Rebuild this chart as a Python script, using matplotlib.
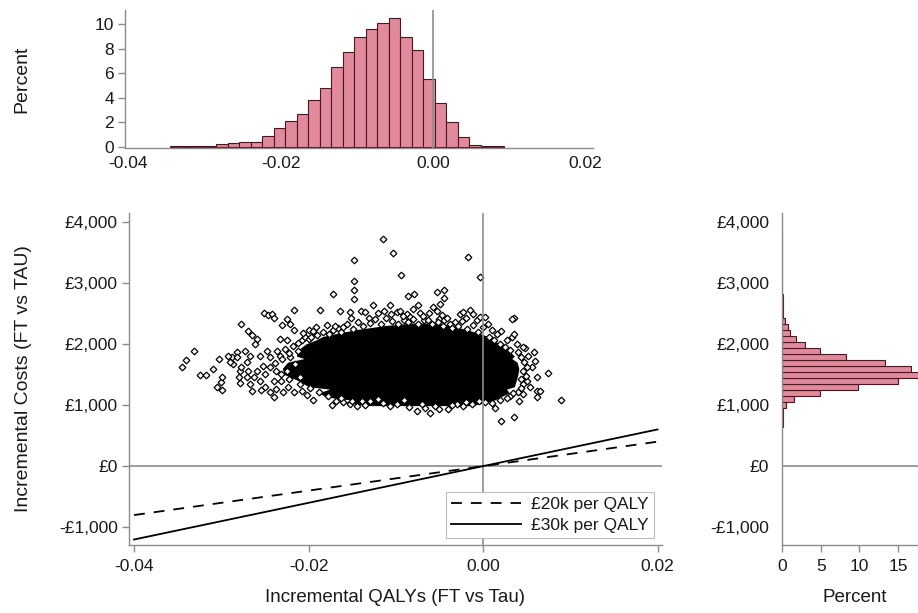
import numpy as np
import matplotlib

matplotlib.use("Agg")
import matplotlib.pyplot as plt
from matplotlib.ticker import FuncFormatter

plt.rcParams["font.family"] = ["Liberation Sans", "DejaVu Sans"]
plt.rcParams["axes.unicode_minus"] = False

GREY = "#8c8c8c"
BAR = "#e08a9b"
BAR_EDGE = "#4d1522"
TXT = "#1a1a1a"

# ---- data ----
# top histogram: incremental QALYs, percent per bin
qaly_bin_start = -0.0345
qaly_bin_width = 0.00151
qaly_pct = [0.05, 0.05, 0.05, 0.05, 0.2, 0.3, 0.4, 0.4, 0.9, 1.5, 2.1, 2.7, 3.8, 4.8, 6.5,
            7.7, 8.9, 9.6, 10.1, 10.5, 8.9, 7.9, 5.5, 3.6, 2.0, 0.8, 0.15, 0.05, 0.05]

# right histogram: incremental costs, percent per bin
cost_bin_start = 648
cost_bin_width = 98.7
cost_pct = [0.03, 0.05, 0.1, 0.45, 1.47, 4.85, 9.75, 15.0, 17.8, 16.7, 13.3, 8.2, 4.9, 3.0,
            1.8, 1.0, 0.7, 0.3, 0.1, 0.05, 0.04, 0.03, 0.02, 0.02, 0.01, 0.01, 0.01, 0.01,
            0.01, 0.01, 0.01, 0.01]

# saturated centre of the scatter cloud: extent of the solid black band per cost level
core_cost = [990, 1040, 1080, 1130, 1200, 1260, 1300, 1400, 1500, 1600, 1700, 1760, 1800,
             1900, 2000, 2060, 2120, 2180, 2240, 2300, 2340]
core_left = [-0.0130, -0.0160, -0.0150, -0.0180, -0.0188, -0.0176, -0.0200, -0.0212, -0.0228,
             -0.0230, -0.0224, -0.0205, -0.0214, -0.0212, -0.0203, -0.0192, -0.0184, -0.0165,
             -0.0142, -0.0112, -0.0082]
core_right = [-0.0012, 0.0002, 0.0013, 0.0020, 0.0030, 0.0027, 0.0036, 0.0038, 0.0040,
              0.0041, 0.0039, 0.0033, 0.0036, 0.0029, 0.0020, 0.0011, 0.0006, -0.0006,
              -0.0021, -0.0036, -0.0056]

# individual simulations visible outside the solid centre
scatter_qaly = [
    -0.0115, -0.0103, -0.0148, -0.0017, -0.0003, -0.0094, -0.0148, -0.0148, -0.0148, -0.0172,
    -0.0086, -0.0079, -0.0053, -0.0045, -0.0045, -0.0049, -0.0187, -0.0126, -0.0164, 0.0036,
    0.0033, 0.0048, 0.0074, 0.0089, 0.0021, 0.0036, 0.0062,
    -0.0345, -0.0340, -0.0331, -0.0324, -0.0318, -0.0309, -0.0303, -0.0305, -0.0299, -0.0300,
    -0.0299, -0.0288, -0.0286, -0.0282, -0.0279, -0.0277, -0.0269, -0.0265, -0.0259, -0.0251,
    -0.0246, -0.0242, -0.0240, -0.0230, -0.0225, -0.0221, -0.0217, -0.0217, -0.0233, -0.0265,
    -0.0254, -0.0244, -0.0240, -0.0229, -0.0259, -0.0244, -0.0252, -0.0236, -0.0225, -0.0273,
    -0.0269, -0.0279,
    -0.0282, -0.0277, -0.0271, -0.0263, -0.0256, -0.0250, -0.0248, -0.0244, -0.0240, -0.0237,
    -0.0231, -0.0225, -0.0221, -0.0216, -0.0212, -0.0210, -0.0208, -0.0204, -0.0261, -0.0256,
    -0.0267, -0.0233, -0.0227, -0.0250, -0.0237, -0.0223, -0.0271, -0.0267, -0.0280, -0.0290,
    -0.0292,
    -0.0200, -0.0195, -0.0191, -0.0179, -0.0172, -0.0166, -0.0160, -0.0152, -0.0151, -0.0140,
    -0.0135, -0.0131, -0.0120, -0.0114, -0.0107, -0.0105, -0.0099, -0.0095, -0.0091, -0.0087,
    -0.0084, -0.0080, -0.0074, -0.0072, -0.0068, -0.0062, -0.0057, -0.0053, -0.0051, -0.0047,
    -0.0045, -0.0038, -0.0032, -0.0026, -0.0023, -0.0020, -0.0015, -0.0011, -0.0007, -0.0003,
    0.0002, 0.0006, 0.0010, 0.0016, 0.0021, 0.0027, 0.0033, 0.0035, 0.0039, 0.0046,
    0.0052, 0.0058, 0.0060, 0.0056, 0.0062, 0.0050, 0.0054, 0.0046, 0.0065, 0.0062,
    0.0046, 0.0041, 0.0031,
    -0.0173, -0.0168, -0.0160, -0.0152, -0.0145, -0.0139, -0.0130, -0.0120, -0.0107, -0.0099,
    -0.0091, -0.0076, -0.0067, -0.0061, -0.0051, -0.0040, -0.0030, -0.0023, -0.0013, -0.0005,
    0.0002, 0.0014, -0.0202, -0.0195, -0.0208, -0.0217,
    -0.0190, -0.0183, -0.0176, -0.0170, -0.0163, -0.0156, -0.0149, -0.0143, -0.0137, -0.0130,
    -0.0124, -0.0117, -0.0111, -0.0104, -0.0098, -0.0092, -0.0086, -0.0080, -0.0075, -0.0069,
    -0.0063, -0.0058, -0.0052, -0.0046, -0.0041, -0.0035, -0.0029, -0.0024, -0.0018, -0.0012,
    -0.0006, 0.0000, 0.0007, 0.0013, 0.0019, 0.0025, 0.0031, 0.0040, 0.0044, 0.0047,
    0.0050, 0.0046, 0.0049, 0.0044, 0.0043, 0.0040, 0.0034, 0.0028, 0.0020, 0.0010,
    -0.0020, -0.0035, -0.0055, -0.0070, -0.0085, -0.0115, -0.0135, -0.0150, -0.0163, -0.0178,
    -0.0188, -0.0198, -0.0210, -0.0222, -0.0232, -0.0238, -0.0230, -0.0222, -0.0218, -0.0212,
    -0.0200, -0.0206, -0.0197,
]
scatter_cost = [
    3717, 3492, 3371, 3421, 3097, 3119, 3021, 2878, 2730, 2823,
    2785, 2812, 2851, 2878, 2757, 2659, 2560, 2631, 2533, 2423,
    2401, 1935, 1519, 1080, 735, 806, 1233,
    1617, 1738, 1891, 1497, 1497, 1595, 1754, 1288, 1250, 1371,
    1453, 1782, 1672, 1864, 1354, 2330, 2209, 2138, 2083, 2505,
    2467, 2494, 2423, 2313, 2412, 2330, 2560, 2231, 2083, 1233,
    1250, 1206, 1135, 1206, 1562, 1782, 1645, 1891, 2056, 1891,
    1562, 1562,
    1782, 1617, 1699, 1453, 1398, 1508, 1891, 1617, 1398, 1562,
    1398, 1562, 1782, 1672, 1891, 1453, 2056, 2111, 2001, 1809,
    1809, 1809, 1919, 1288, 1261, 1288, 1453, 1343, 1453, 1699,
    1809,
    2231, 2209, 2275, 2313, 2231, 2264, 2275, 2522, 2429, 2538,
    2522, 2429, 2505, 2538, 2631, 2494, 2522, 2538, 2385, 2494,
    2439, 2577, 2631, 2505, 2385, 2505, 2604, 2538, 2412, 2467,
    2385, 2330, 2357, 2494, 2522, 2429, 2549, 2494, 2385, 2439,
    2439, 2330, 2231, 2165, 2209, 2056, 2111, 2165, 2001, 1946,
    1809, 1864, 1727, 1617, 1453, 1398, 1288, 1343, 1233, 1124,
    1179, 1069, 1151,
    998, 1069, 1042, 1014, 976, 1069, 1069, 1096, 987, 1014,
    1080, 905, 948, 877, 932, 932, 1014, 987, 1014, 1069,
    1042, 959, 1168, 1080, 1233, 1206,
    2150, 2190, 2160, 2290, 2200, 2330, 2250, 2360, 2290, 2340,
    2400, 2330, 2430, 2370, 2320, 2450, 2350, 2410, 2330, 2460,
    2390, 2320, 2350, 2290, 2420, 2260, 2300, 2380, 2240, 2310,
    2200, 2280, 2120, 2060, 2000, 1950, 1900, 1860, 1780, 1700,
    1620, 1550, 1480, 1420, 1280, 1220, 1190, 1120, 1090, 1040,
    1050, 1000, 990, 1010, 960, 1030, 1000, 1070, 1110, 1150,
    1210, 1280, 1350, 1420, 1500, 1680, 1750, 1850, 1960, 2020,
    2080, 2170, 2120,
]

# willingness-to-pay thresholds (cost-effectiveness lines)
wtp_values = [20000, 30000]
wtp_labels = ["£20k per QALY", "£30k per QALY"]
wtp_styles = [(0, (6, 5)), "-"]
line_qaly = np.array([-0.04, 0.02])

cost_ticks = [-1000, 0, 1000, 2000, 3000, 4000]
qaly_ticks = [-0.04, -0.02, 0.00, 0.02]


def pounds(v, pos=None):
    return ("-" if v < 0 else "") + "£{:,.0f}".format(abs(v))


def style_axes(ax):
    for s in ["top", "right"]:
        ax.spines[s].set_visible(False)
    for s in ["left", "bottom"]:
        ax.spines[s].set_color(GREY)
        ax.spines[s].set_linewidth(1.0)
    ax.tick_params(colors=GREY, labelcolor=TXT, labelsize=12.5, length=5, width=1.0)


fig = plt.figure(figsize=(9.18, 6.13), dpi=100)

# ---- main scatter ----
ax = fig.add_axes([0.1403, 0.1109, 0.5807, 0.5416])
style_axes(ax)
ax.fill_betweenx(core_cost, core_left, core_right, color="black", lw=0, zorder=2)
ax.plot(scatter_qaly, scatter_cost, ls="none", marker="D", ms=3.4, mfc="white",
        mec="black", mew=0.9, zorder=3)
ax.axhline(0, color=GREY, lw=1.2, zorder=4)
ax.axvline(0, color=GREY, lw=1.2, zorder=4)
for wtp, lab, ls in zip(wtp_values, wtp_labels, wtp_styles):
    ax.plot(line_qaly, wtp * line_qaly, color="black", lw=1.3, ls=ls, label=lab, zorder=5)
ax.set_xlim(-0.0406, 0.0205)
ax.set_ylim(-1290, 4140)
ax.set_xticks(qaly_ticks)
ax.xaxis.set_major_formatter(FuncFormatter(lambda v, p: "{:.2f}".format(v)))
ax.set_yticks(cost_ticks)
ax.yaxis.set_major_formatter(FuncFormatter(pounds))
ax.tick_params(axis="y", pad=3)
ax.tick_params(axis="x", pad=5)
ax.set_xlabel("Incremental QALYs (FT vs Tau)", fontsize=13.5, color=TXT)
ax.set_ylabel("Incremental Costs (FT vs TAU)", fontsize=14, color=TXT)
ax.xaxis.set_label_coords(0.5, -0.133)
ax.yaxis.set_label_coords(-0.182, 0.5)
leg = ax.legend(loc="lower right", bbox_to_anchor=(0.985, 0.021), borderaxespad=0,
                fontsize=12.5, handlelength=4.0, handletextpad=0.6, labelspacing=0.3,
                borderpad=0.3, fancybox=False, framealpha=1, edgecolor="#bdbdbd")
leg.get_frame().set_linewidth(0.8)
for t in leg.get_texts():
    t.set_color(TXT)

# ---- top histogram (QALYs) ----
axt = fig.add_axes([0.1362, 0.7586, 0.5098, 0.2251])
style_axes(axt)
qaly_edges = qaly_bin_start + qaly_bin_width * np.arange(len(qaly_pct))
axt.bar(qaly_edges, qaly_pct, width=qaly_bin_width, align="edge", color=BAR,
        edgecolor=BAR_EDGE, linewidth=0.8, zorder=2)
axt.axvline(0, color=GREY, lw=1.2, zorder=3)
axt.set_xlim(-0.0404, 0.0210)
axt.set_ylim(-0.1, 11.14)
axt.set_xticks(qaly_ticks)
axt.xaxis.set_major_formatter(FuncFormatter(lambda v, p: "{:.2f}".format(v)))
axt.set_yticks([0, 2, 4, 6, 8, 10])
axt.tick_params(axis="x", length=0, pad=6)
axt.tick_params(axis="y", pad=3)
axt.set_ylabel("Percent", fontsize=14, color=TXT)
axt.yaxis.set_label_coords(-0.203, 0.5)

# ---- right histogram (costs) ----
axr = fig.add_axes([0.8515, 0.1109, 0.1592, 0.5416])
style_axes(axr)
cost_edges = cost_bin_start + cost_bin_width * np.arange(len(cost_pct))
axr.barh(cost_edges, cost_pct, height=cost_bin_width, align="edge", color=BAR,
         edgecolor=BAR_EDGE, linewidth=0.8, zorder=2)
axr.axhline(0, color=GREY, lw=1.2, zorder=3)
axr.set_xlim(-0.08, 18.85)
axr.set_ylim(-1290, 4140)
axr.set_xticks([0, 5, 10, 15])
axr.set_yticks(cost_ticks)
axr.yaxis.set_major_formatter(FuncFormatter(pounds))
axr.tick_params(axis="y", length=0, pad=9)
axr.tick_params(axis="x", pad=5)
axr.set_xlabel("Percent", fontsize=13.5, color=TXT)
axr.xaxis.set_label_coords(0.5, -0.133)

fig.savefig("out.png", dpi=100)
